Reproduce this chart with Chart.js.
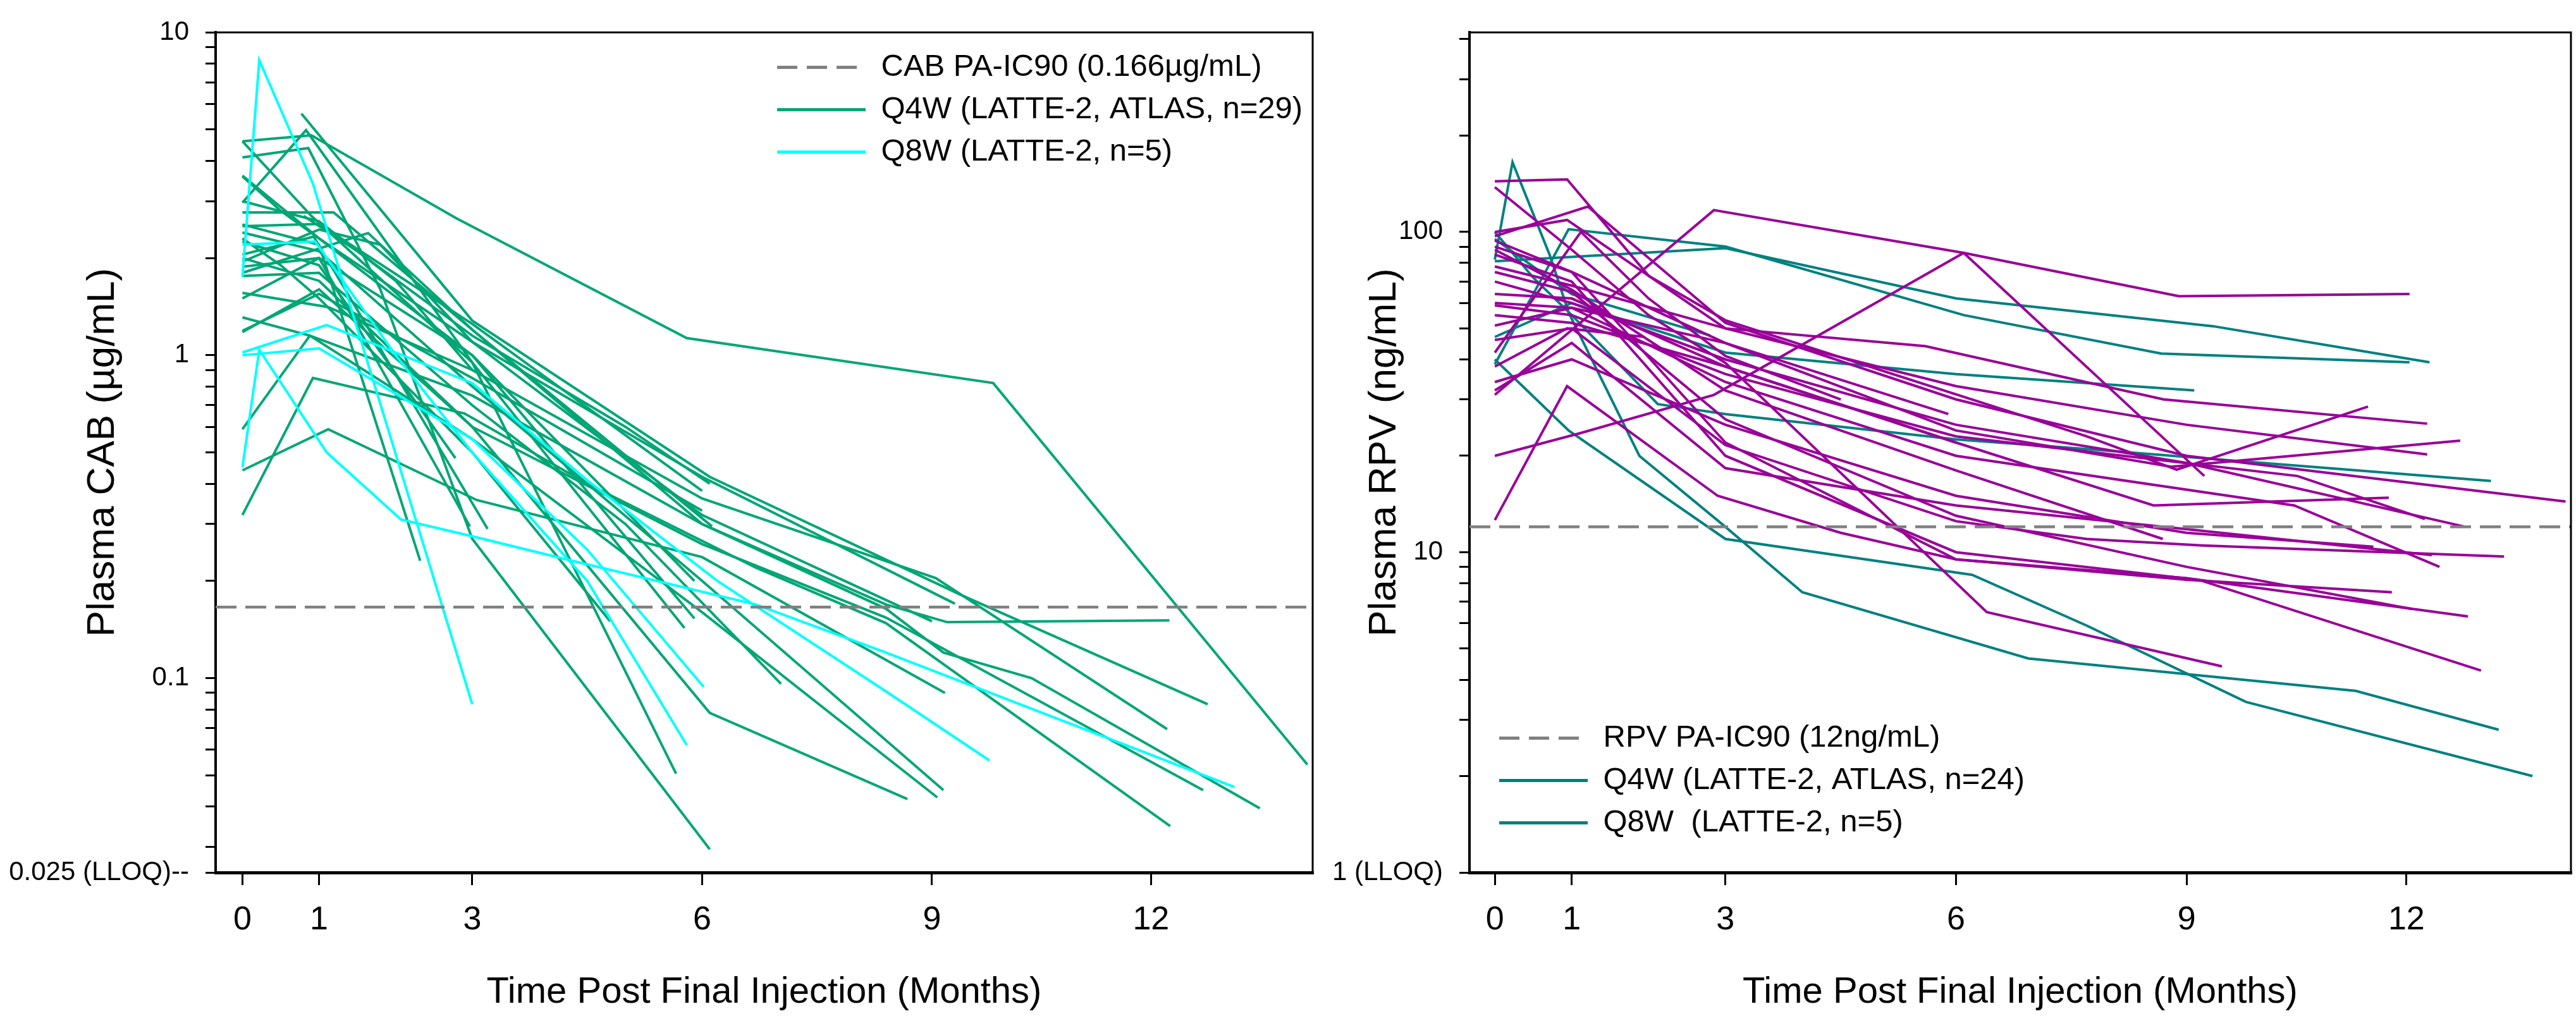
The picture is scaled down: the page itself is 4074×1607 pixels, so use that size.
<!DOCTYPE html>
<html>
<head>
<meta charset="utf-8">
<script src="https://cdn.jsdelivr.net/npm/chart.js@4.4.1/dist/chart.umd.min.js"></script>
<style>
  body { margin: 0; background: #fff; width: 4074px; height: 1607px; overflow: hidden; position: relative; }
  canvas { position: absolute; top: 0; }
  #cabChart { left: 0; }
  #rpvChart { left: 2100px; }
</style>
</head>
<body>
<canvas id="cabChart" width="2100" height="1607"></canvas>
<canvas id="rpvChart" width="1974" height="1607"></canvas>
<script>
const FONT = 'Arial, "Liberation Sans", Helvetica, sans-serif';

// x axis (months)
const xTickValues = [0, 1, 3, 6, 9, 11.86];
const xTickLabels = ["0", "1", "3", "6", "9", "12"];
const cabXRange = [-0.35, 13.97];
const rpvXRange = [-0.33, 14.0];

// CAB y axis
const cabYRange = [0.025, 10];
const cabYMajor = [0.025, 0.1, 1, 10];
const cabYMajorLabels = ["0.025 (LLOQ)--", "0.1", "1", "10"];
const cabYMinor = [0.03, 0.04, 0.05, 0.06, 0.07, 0.08, 0.09,
                   0.2, 0.3, 0.4, 0.5, 0.6, 0.7, 0.8, 0.9,
                   2, 3, 4, 5, 6, 7, 8, 9];

// RPV y axis
const rpvYRange = [1, 420];
const rpvYMajor = [1, 10, 100];
const rpvYMajorLabels = ["1 (LLOQ)", "10", "100"];
const rpvYMinor = [2, 3, 4, 5, 6, 7, 8, 9,
                   20, 30, 40, 50, 60, 70, 80, 90,
                   200, 300, 400];

// PA-IC90 thresholds
const cabIC90 = 0.166;
const rpvIC90 = 12;

const cabLegend = ["CAB PA-IC90 (0.166\u00b5g/mL)", "Q4W (LATTE-2, ATLAS, n=29)", "Q8W (LATTE-2, n=5)"];
const rpvLegend = ["RPV PA-IC90 (12ng/mL)", "Q4W (LATTE-2, ATLAS, n=24)", "Q8W  (LATTE-2, n=5)"];

// CAB concentrations, one line per participant: [month, ug/mL]
const cabQ4W = [
  [[0,4.6],[0.9,4.8],[2.8,2.65],[5.8,1.13],[9.8,0.82],[13.9,0.054]],
  [[0.77,5.6],[3.0,1.28],[6.1,0.42],[9.4,0.18],[12.6,0.083]],
  [[0,2.97],[0.83,4.98],[3.0,0.95],[5.66,0.0506]],
  [[0,4.1],[0.86,4.38],[1.8,1.6],[3.0,0.27],[6.1,0.0295]],
  [[0,4.6],[0.9,2.7],[3.0,0.95],[5.77,0.143]],
  [[0,3.6],[1.0,2.3],[3.0,1.0],[5.9,0.153]],
  [[0,2.77],[1.19,2.77],[3.0,1.2],[6.13,0.295]],
  [[0,2.54],[1.0,2.2],[2.32,0.231]],
  [[0,2.25],[1.0,1.9],[2.78,0.48]],
  [[0,2.05],[0.93,2.33],[3.2,0.29]],
  [[0,1.88],[1.0,2.0],[2.97,0.295]],
  [[0,1.8],[1.64,2.39],[3.0,1.2],[6.0,0.3],[8.4,0.169],[9.2,0.149],[12.1,0.151]],
  [[0,1.56],[1.12,1.41],[3.0,0.9],[6.0,0.36],[9.05,0.204],[12.07,0.0695]],
  [[0,1.31],[0.88,1.15],[3.0,0.75],[6.0,0.3],[8.4,0.164],[9.15,0.12],[10.3,0.1],[13.28,0.0395]],
  [[0,1.18],[1.0,1.6],[3.0,0.6],[6.0,0.26],[8.4,0.154],[12.54,0.045]],
  [[0,0.59],[0.88,1.15],[3.0,0.55],[6.0,0.16],[9.07,0.0427]],
  [[0,0.44],[1.12,0.59],[3.06,0.356],[6.0,0.237],[9.17,0.09]],
  [[0,0.32],[0.92,0.85],[2.9,0.66],[4.5,0.4],[6.7,0.22],[8.4,0.148],[12.11,0.0348]],
  [[0,2.4],[1.0,2.1],[3.0,0.8],[6.0,0.2],[9.15,0.045]],
  [[0,2.0],[1.0,1.7],[3.0,0.6],[6.1,0.078],[8.68,0.0422]],
  [[0,1.76],[1.0,1.8],[3.0,0.7],[5.0,0.3],[7.03,0.096]],
  [[0,3.58],[0.5,2.8],[1.0,2.3],[3.0,1.1],[6.0,0.42],[9.3,0.17]],
  [[0,2.51],[1.0,2.55],[3.0,1.25],[6.0,0.38]],
  [[0,1.5],[1.0,2.0],[3.0,1.0],[5.9,0.2]],
  [[0,1.19],[1.0,1.55],[3.0,0.85],[6.0,0.33]],
  [[0,2.3],[0.5,1.9],[1.0,1.5],[3.0,0.5],[4.8,0.15]],
  [[0.8,2.7],[1.5,2.1],[3.0,1.15],[5.0,0.6],[6.1,0.4]],
  [[0,3.0],[1.0,2.6],[2.0,1.7],[3.0,0.9]],
  [[0,1.95],[1.0,2.45],[1.8,2.2],[3.0,1.1],[6.0,0.32],[9.0,0.15]]
];
const cabQ8W = [
  [[0,1.75],[0.22,8.2],[0.92,3.4],[3.0,0.083]],
  [[0,2.2],[0.95,2.25],[2.0,1.0],[3.0,0.5],[4.5,0.2],[5.8,0.062]],
  [[0,1.0],[1.0,1.05],[3.0,0.55],[4.5,0.25],[6.02,0.094]],
  [[0,0.45],[0.22,1.04],[1.1,0.5],[2.07,0.31],[3.0,0.275],[4.4,0.228],[6.7,0.169],[8.4,0.12],[12.95,0.046]],
  [[0,1.02],[1.1,1.24],[3.0,0.82],[4.5,0.41],[6.2,0.2],[8.4,0.091],[9.75,0.0556]]
];

// RPV concentrations, one line per participant: [month, ng/mL]
const rpvQ4W = [
  [[0,31],[2.85,117],[6.1,86],[8.9,63],[11.9,64]],
  [[0,20],[1.1,23.5],[2.85,31],[6.1,86],[9.23,17.3]],
  [[0,144],[0.94,146],[2.0,73],[3.0,53],[7.7,23],[8.87,18.1],[11.36,28.5]],
  [[0,138],[1.0,88],[2.0,55],[3.0,39],[6.4,6.5],[9.46,4.4]],
  [[0,100],[0.94,109],[3.0,50],[6.0,33],[9.0,25],[12.13,20.2]],
  [[0,97],[1.21,120],[3.0,52],[6.0,30],[9.0,20],[13.93,14.4]],
  [[0,94],[1.0,75],[3.0,45],[6.0,24],[8.8,18.5],[12.56,22.3]],
  [[0,78],[1.0,68],[3.0,50],[5.6,44],[8.7,30],[12.13,25.2]],
  [[0,70],[1.0,60],[3.0,40],[6.0,25],[9.0,19],[12.63,12.0]],
  [[0,64],[1.0,62],[3.0,38],[6.0,22],[8.57,14],[11.63,14.8]],
  [[0,59],[1.0,55],[3.0,36],[6.0,23],[10.44,17.3],[12.1,12.7]],
  [[0,51],[1.0,58],[3.0,34],[6.0,20],[10.4,14],[12.29,9.0]],
  [[0,46],[1.0,50],[3.0,21.6],[6.0,12.5],[7.7,11.0],[9.2,10.5],[13.13,9.7]],
  [[0,34],[1.0,40],[3.0,25],[6.0,15],[9.0,11.5],[11.43,10.4]],
  [[0,32],[1.0,45],[3.0,18.3],[6.0,14],[9.0,11.8],[12.19,9.8]],
  [[0,12.6],[0.94,33],[2.9,15],[4.5,11.5],[6.0,9.5],[9.0,8.3],[12.66,6.3]],
  [[0,90],[1.0,75],[3.0,22],[6.0,9.5],[9.0,8.2],[11.67,7.5]],
  [[0,85],[1.0,70],[3.0,20],[6.0,10],[9.16,8.2],[12.83,4.27]],
  [[0,75],[1.0,65],[3.0,26],[6.0,13],[9.0,9.0],[11.93,6.65]],
  [[0,60],[1.0,58],[3.0,45],[5.9,27]],
  [[0,55],[1.0,52],[3.0,38],[6.0,22]],
  [[0,42],[1.12,100],[2.0,62],[3.0,41],[4.5,30]],
  [[0,38],[0.94,50],[1.95,47]],
  [[0,88],[1.0,66],[3.0,32],[6.0,18],[8.69,11.0]]
];
const rpvQ8W = [
  [[0,82],[0.23,165],[0.72,84],[0.96,56],[1.88,20],[3.0,12],[4.0,7.5],[6.94,4.66],[11.2,3.69],[13.06,2.79]],
  [[0,40],[0.96,24],[3.0,11],[6.21,8.5],[7.7,5.9],[9.77,3.41],[13.5,2.0]],
  [[0,38.6],[0.96,102],[3.0,90],[6.1,55],[8.67,41.7],[11.9,39.2]],
  [[0,81],[3.0,89],[6.0,62],[9.34,50.8],[12.16,39.2]],
  [[0,47],[1.0,60],[3.0,42],[6.0,36],[9.1,32]],
  [[0,100],[0.5,72],[1.0,55],[2.12,29],[3.0,27],[6.0,22.5],[7.7,21],[12.96,16.7]],
  [[0,95],[1.0,64],[2.8,47.5]]
];

const GREY = "#808080";

// draws the top and right edges of the plot box
const framePlugin = {
  id: "frame",
  afterDatasetsDraw(chart) {
    const { ctx, chartArea: a } = chart;
    ctx.save();
    ctx.strokeStyle = "#000";
    ctx.lineWidth = 3;
    ctx.beginPath();
    ctx.moveTo(a.left, a.top);
    ctx.lineTo(a.right, a.top);
    ctx.lineTo(a.right, a.bottom);
    ctx.stroke();
    ctx.restore();
  }
};

// moves the chartArea legend to a spot inside the plot
const legendSpot = {
  id: "legendSpot",
  afterLayout(chart, args, opts) {
    const lg = chart.legend;
    if (!lg) return;
    const w = lg.width, h = lg.height;
    lg.left = opts.x; lg.top = opts.y;
    lg.right = opts.x + w; lg.bottom = opts.y + h;
  }
};

function pickLabel(values, labels, v) {
  const i = values.findIndex(m => Math.abs(m - v) / m < 1e-6);
  return i >= 0 ? labels[i] : "";
}

function buildChart(id, cfg) {
  const datasets = [];

  // threshold line
  datasets.push({
    data: cfg.xRange.map(x => ({ x: x, y: cfg.ic90 })),
    borderColor: GREY, borderWidth: 4.5, borderDash: [33, 14],
    pointRadius: 0
  });

  cfg.groups.forEach(g => {
    g.lines.forEach(line => {
      datasets.push({
        data: line.map(p => ({ x: p[0], y: p[1] })),
        borderColor: g.color, borderWidth: 4,
        pointRadius: 0, tension: 0, fill: false
      });
    });
  });

  const legendColors = cfg.legendColors;
  const yTicks = cfg.yMajor.concat(cfg.yMinor).sort((a, b) => a - b);

  return new Chart(document.getElementById(id), {
    type: "line",
    data: { datasets: datasets },
    plugins: [framePlugin, legendSpot],
    options: {
      animation: false,
      responsive: false,
      devicePixelRatio: 1,
      layout: { padding: { left: 0, top: cfg.padTop, right: cfg.padRight, bottom: 0 } },
      plugins: {
        tooltip: { enabled: false },
        legendSpot: { x: cfg.legendX, y: cfg.legendY },
        legend: {
          position: "chartArea",
          align: "start",
          labels: {
            usePointStyle: true,
            pointStyleWidth: 140,
            padding: 18,
            color: "#000",
            font: { family: FONT, size: 49 },
            generateLabels: () => cfg.legend.map((t, i) => ({
              text: t,
              pointStyle: "line",
              strokeStyle: legendColors[i],
              fillStyle: legendColors[i],
              lineWidth: 5,
              lineDash: i === 0 ? [32, 15] : [],
              hidden: false,
              datasetIndex: i
            }))
          }
        }
      },
      scales: {
        x: {
          type: "linear",
          min: cfg.xRange[0],
          max: cfg.xRange[1],
          afterBuildTicks: s => { s.ticks = xTickValues.map(v => ({ value: v })); },
          afterFit: s => { s.height = 227; },
          grid: { drawOnChartArea: false, drawTicks: true, tickLength: 20, color: "#000", lineWidth: 3 },
          border: { display: true, color: "#000", width: 5 },
          ticks: {
            autoSkip: false, maxRotation: 0, padding: 24, color: "#000",
            font: { family: FONT, size: 52 },
            callback: (v, i) => xTickLabels[i]
          },
          title: {
            display: true, text: "Time Post Final Injection (Months)", color: "#000",
            font: { family: FONT, size: 58 }, padding: { top: 0, bottom: 2 }
          }
        },
        y: {
          type: "logarithmic",
          min: cfg.yRange[0],
          max: cfg.yRange[1],
          afterBuildTicks: s => { s.ticks = yTicks.map(v => ({ value: v })); },
          afterFit: s => { s.width = cfg.yWidth; },
          grid: { drawOnChartArea: false, drawTicks: true, tickLength: 16, color: "#000", lineWidth: 3 },
          border: { display: true, color: "#000", width: 4 },
          ticks: {
            autoSkip: false, padding: 26, color: "#000",
            font: { family: FONT, size: 42 },
            callback: v => pickLabel(cfg.yMajor, cfg.yMajorLabels, v)
          },
          title: {
            display: true, text: cfg.yTitle, color: "#000",
            font: { family: FONT, size: 62 }, padding: { top: cfg.yTitlePad, bottom: 0 }
          }
        }
      }
    }
  });
}

buildChart("cabChart", {
  xRange: cabXRange, yRange: cabYRange,
  yMajor: cabYMajor, yMajorLabels: cabYMajorLabels, yMinor: cabYMinor,
  ic90: cabIC90,
  groups: [
    { lines: cabQ8W, color: "#00FFFF" },
    { lines: cabQ4W, color: "#00A676" }
  ],
  legend: cabLegend,
  legendColors: [GREY, "#00A676", "#00FFFF"],
  legendX: 1211, legendY: 64,
  padTop: 49, padRight: 24, yWidth: 341, yTitlePad: 126,
  yTitle: "Plasma CAB (\u00b5g/mL)"
});

buildChart("rpvChart", {
  xRange: rpvXRange, yRange: rpvYRange,
  yMajor: rpvYMajor, yMajorLabels: rpvYMajorLabels, yMinor: rpvYMinor,
  ic90: rpvIC90,
  groups: [
    { lines: rpvQ4W, color: "#990099" },
    { lines: rpvQ8W, color: "#008080" }
  ],
  legend: rpvLegend,
  legendColors: [GREY, "#008080", "#008080"],
  legendX: 253, legendY: 1125,
  padTop: 44, padRight: 8, yWidth: 224, yTitlePad: 53,
  yTitle: "Plasma RPV (ng/mL)"
});
</script>
</body>
</html>
